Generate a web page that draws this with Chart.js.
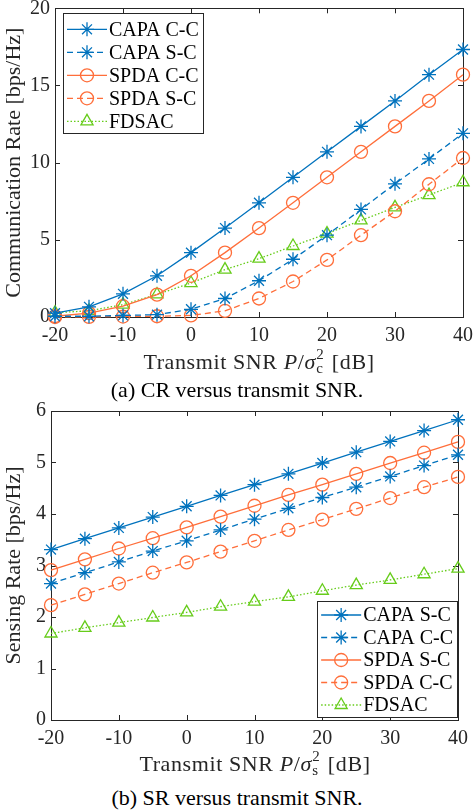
<!DOCTYPE html>
<html>
<head>
<meta charset="utf-8">
<script src="https://cdn.jsdelivr.net/npm/chart.js@4.4.0/dist/chart.umd.min.js"></script>
<style>
html, body { margin: 0; padding: 0; background: #fff; }
body { width: 474px; height: 812px; position: relative; overflow: hidden; font-family: "Liberation Serif", "Times New Roman", serif; color: #262626; }
.wrap { position: absolute; left: 0; }
.xt { position: absolute; font-size: 22px; white-space: nowrap; transform: translateX(-50%); letter-spacing: 0.6px; line-height: 26px; }
.cap { position: absolute; left: 0; width: 474px; text-align: center; font-size: 22px; color: #000; line-height: 26px; }
.ss { display: inline-block; position: relative; width: 0.45em; height: 1em; }
.ss .up { position: absolute; left: 0.02em; top: -0.38em; font-size: 0.68em; }
.ss .dn { position: absolute; left: 0.02em; top: 0.52em; font-size: 0.68em; }
</style>
</head>
<body>
<div class="wrap" style="top:0"><canvas id="cr" width="474" height="352"></canvas></div>
<div class="wrap" style="top:398px"><canvas id="sr" width="474" height="352"></canvas></div>

<div class="xt" style="left:259px; top:347px">Transmit SNR <i>P</i>/<i>σ</i><span class="ss"><span class="up">2</span><span class="dn">c</span></span> [dB]</div>
<div class="cap" style="top:377px">(a) CR versus transmit SNR.</div>
<div class="xt" style="left:255px; top:749px">Transmit SNR <i>P</i>/<i>σ</i><span class="ss"><span class="up">2</span><span class="dn">s</span></span> [dB]</div>
<div class="cap" style="top:785px">(b) SR versus transmit SNR.</div>

<script>
// transmit SNR [dB]
const snr = [-20, -15, -10, -5, 0, 5, 10, 15, 20, 25, 30, 35, 40];

// (a) communication rate [bps/Hz]
const crCapaCC = [0.25, 0.66, 1.5, 2.67, 4.17, 5.76, 7.4, 9.05, 10.7, 12.35, 14.0, 15.7, 17.33];
const crCapaSC = [0.05, 0.05, 0.1, 0.15, 0.5, 1.2, 2.35, 3.74, 5.3, 6.97, 8.63, 10.24, 11.9];
const crSpdaCC = [0.05, 0.25, 0.7, 1.45, 2.67, 4.17, 5.76, 7.4, 9.05, 10.7, 12.35, 14.0, 15.7];
const crSpdaSC = [0.0, 0.01, 0.03, 0.05, 0.1, 0.4, 1.2, 2.3, 3.7, 5.3, 6.85, 8.6, 10.3];
const crFdsac = [0.28, 0.4, 0.8, 1.46, 2.2, 3.07, 3.78, 4.6, 5.4, 6.26, 7.1, 7.9, 8.73];

// (b) sensing rate [bps/Hz]
const srCapaSC = [3.31, 3.52, 3.73, 3.94, 4.15, 4.36, 4.57, 4.78, 4.99, 5.2, 5.41, 5.62, 5.83];
const srCapaCC = [2.65, 2.86, 3.07, 3.28, 3.48, 3.69, 3.9, 4.11, 4.32, 4.52, 4.73, 4.94, 5.15];
const srSpdaSC = [2.91, 3.12, 3.33, 3.53, 3.74, 3.95, 4.16, 4.37, 4.57, 4.78, 4.99, 5.19, 5.4];
const srSpdaCC = [2.23, 2.44, 2.65, 2.86, 3.06, 3.27, 3.48, 3.69, 3.89, 4.1, 4.31, 4.52, 4.72];
const srFdsac = [1.68, 1.79, 1.89, 1.99, 2.09, 2.2, 2.3, 2.39, 2.51, 2.62, 2.72, 2.83, 2.94];

const BLUE = '#0072BD';
const ORANGE = '#FF6E3A';
const GREEN = '#66CC1A';
const AXIS = '#262626';
const FONT = '"Liberation Serif", "Times New Roman", serif';

function series(label, values, color, marker, dash) {
    return {
        label: label,
        data: snr.map((x, i) => ({ x: x, y: values[i] })),
        borderColor: color,
        backgroundColor: 'rgba(0,0,0,0)',
        borderWidth: 1.3,
        borderDash: dash,
        pointStyle: marker,
        pointRadius: marker === 'circle' ? 6.5 : 7,
        pointBorderWidth: 1.3,
        pointBorderColor: color,
        pointBackgroundColor: 'rgba(0,0,0,0)',
        tension: 0,
        clip: false
    };
}

/** draws one legend marker like MATLAB does */
function drawMarker(ctx, style, x, y, r) {
    ctx.beginPath();
    if (style === 'circle') {
        ctx.arc(x, y, r, 0, Math.PI * 2);
    } else if (style === 'triangle') {
        for (let k = 0; k < 3; k++) {
            const a = k * 2 * Math.PI / 3;
            const px = x + Math.sin(a) * r, py = y - Math.cos(a) * r;
            if (k === 0) ctx.moveTo(px, py); else ctx.lineTo(px, py);
        }
        ctx.closePath();
    } else {
        for (let k = 0; k < 4; k++) {
            const a = k * Math.PI / 4;
            ctx.moveTo(x - Math.cos(a) * r, y - Math.sin(a) * r);
            ctx.lineTo(x + Math.cos(a) * r, y + Math.sin(a) * r);
        }
    }
    ctx.stroke();
}

// box around the plot with inward tick marks on all four sides
const framePlugin = {
    id: 'frame',
    beforeDatasetsDraw(chart) {
        const { ctx, chartArea: a, scales } = chart;
        ctx.save();
        ctx.strokeStyle = AXIS;
        ctx.lineWidth = 1;
        ctx.setLineDash([]);
        ctx.strokeRect(Math.round(a.left) + 0.5, Math.round(a.top) + 0.5, Math.round(a.right - a.left), Math.round(a.bottom - a.top));
        ctx.beginPath();
        scales.x.ticks.forEach(t => {
            const p = Math.round(scales.x.getPixelForValue(t.value)) + 0.5;
            ctx.moveTo(p, a.bottom); ctx.lineTo(p, a.bottom - 5);
            ctx.moveTo(p, a.top); ctx.lineTo(p, a.top + 5);
        });
        scales.y.ticks.forEach(t => {
            const p = Math.round(scales.y.getPixelForValue(t.value)) + 0.5;
            ctx.moveTo(a.left, p); ctx.lineTo(a.left + 5, p);
            ctx.moveTo(a.right, p); ctx.lineTo(a.right - 5, p);
        });
        ctx.stroke();
        ctx.restore();
    }
};

// MATLAB style legend box (line sample + marker + text)
const boxLegendPlugin = {
    id: 'boxLegend',
    afterDatasetsDraw(chart, args, opts) {
        const { ctx, chartArea: a } = chart;
        const sets = chart.data.datasets;
        ctx.save();
        ctx.font = '20px ' + FONT;
        let textW = 0;
        sets.forEach(d => { textW = Math.max(textW, ctx.measureText(d.label).width); });
        const w = 46 + textW + 4;
        const h = opts.height;
        const left = opts.corner === 'tl' ? a.left + opts.dx : a.right - opts.dx - w;
        const top = opts.corner === 'tl' ? a.top + opts.dy : a.bottom - opts.dy - h;
        ctx.fillStyle = '#fff';
        ctx.fillRect(left, top, w, h);
        ctx.strokeStyle = AXIS;
        ctx.lineWidth = 1;
        ctx.strokeRect(Math.round(left) + 0.5, Math.round(top) + 0.5, Math.round(w), Math.round(h));
        sets.forEach((d, i) => {
            const cy = top + opts.first + i * opts.rowH;
            ctx.strokeStyle = d.borderColor;
            ctx.lineWidth = 1.3;
            ctx.setLineDash(d.borderDash || []);
            ctx.beginPath();
            ctx.moveTo(left + 4, cy);
            ctx.lineTo(left + 44, cy);
            ctx.stroke();
            ctx.setLineDash([]);
            drawMarker(ctx, d.pointStyle, left + 24, cy, d.pointRadius);
            ctx.fillStyle = '#000';
            ctx.textBaseline = 'middle';
            ctx.textAlign = 'left';
            ctx.fillText(d.label, left + 46, cy + 1);
        });
        ctx.restore();
    }
};

function makeChart(id, datasets, yMax, yStep, yTitle, leftW, padTop, padRight, xH, legendOpts) {
    const canvas = document.getElementById(id);
    return new Chart(canvas.getContext('2d'), {
        type: 'line',
        data: { datasets: datasets },
        plugins: [framePlugin, boxLegendPlugin],
        options: {
            responsive: false,
            animation: false,
            devicePixelRatio: 1,
            layout: { padding: { left: 0, top: padTop, right: padRight, bottom: 0 } },
            plugins: {
                legend: { display: false },
                tooltip: { enabled: false },
                boxLegend: legendOpts
            },
            scales: {
                x: {
                    type: 'linear',
                    min: -20,
                    max: 40,
                    ticks: { stepSize: 10, padding: 7, color: AXIS, font: { family: FONT, size: 20 }, maxRotation: 0 },
                    grid: { display: false, drawTicks: false },
                    border: { display: false },
                    afterFit(s) { s.height = xH; s.paddingLeft = 0; s.paddingRight = 0; }
                },
                y: {
                    min: 0,
                    max: yMax,
                    ticks: { stepSize: yStep, padding: 5, color: AXIS, font: { family: FONT, size: 20 } },
                    grid: { display: false, drawTicks: false },
                    border: { display: false },
                    title: { display: true, text: yTitle, color: AXIS, font: { family: FONT, size: 22 }, padding: { top: 1, bottom: 0 } },
                    afterFit(s) { s.width = leftW; s.paddingTop = 0; s.paddingBottom = 0; }
                }
            }
        }
    });
}

makeChart('cr', [
    series('CAPA C-C', crCapaCC, BLUE, 'star', []),
    series('CAPA S-C', crCapaSC, BLUE, 'star', [6, 4]),
    series('SPDA C-C', crSpdaCC, ORANGE, 'circle', []),
    series('SPDA S-C', crSpdaSC, ORANGE, 'circle', [6, 4]),
    series('FDSAC', crFdsac, GREEN, 'triangle', [1.5, 2])
], 20, 5, 'Communication Rate [bps/Hz]', 55, 7, 11, 352 - 317,
    { corner: 'tl', dx: 8, dy: 5, height: 120, first: 16, rowH: 23 });

makeChart('sr', [
    series('CAPA S-C', srCapaSC, BLUE, 'star', []),
    series('CAPA C-C', srCapaCC, BLUE, 'star', [6, 4]),
    series('SPDA S-C', srSpdaSC, ORANGE, 'circle', []),
    series('SPDA C-C', srSpdaCC, ORANGE, 'circle', [6, 4]),
    series('FDSAC', srFdsac, GREEN, 'triangle', [1.5, 2])
], 6, 1, 'Sensing Rate [bps/Hz]', 51, 13, 16, 352 - 322,
    { corner: 'br', dx: 1, dy: 3, height: 116, first: 14, rowH: 22.5 });
</script>
</body>
</html>
